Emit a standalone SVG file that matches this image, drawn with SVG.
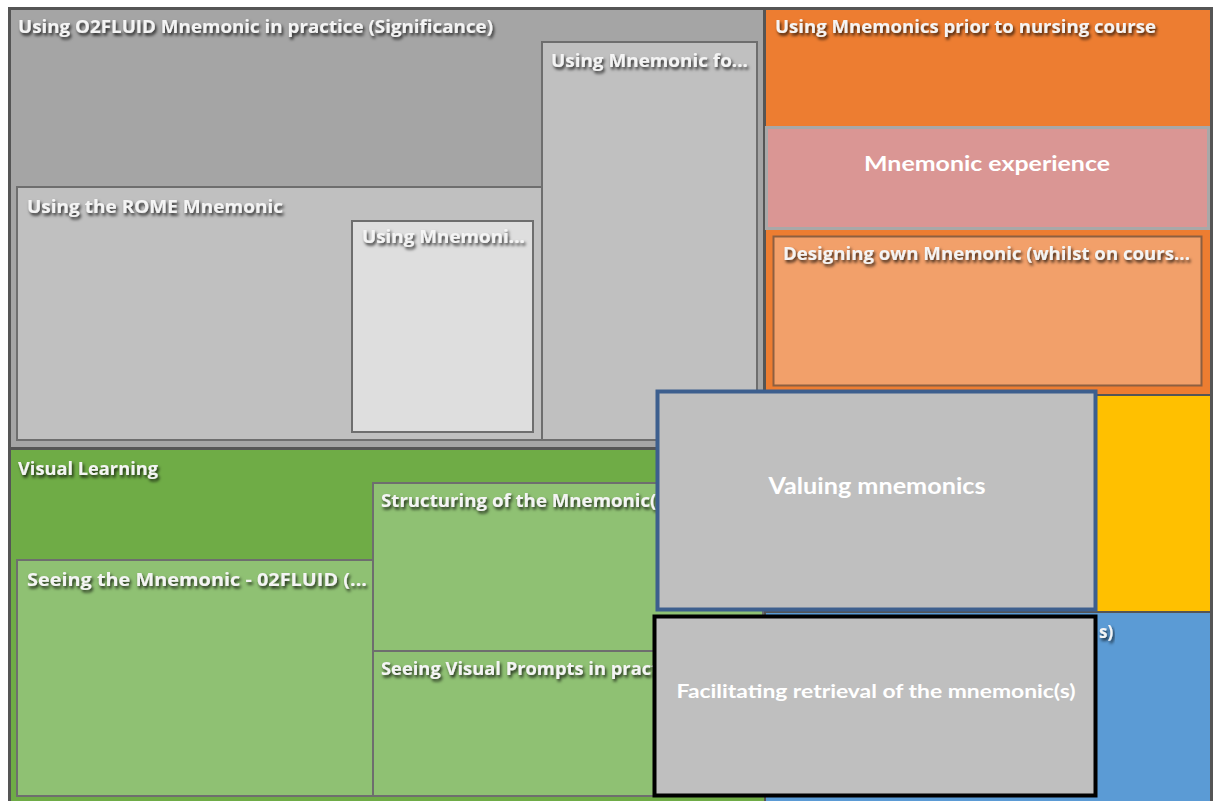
<svg xmlns="http://www.w3.org/2000/svg" width="1218" height="801" viewBox="0 0 1218 801">
  <defs>
    <filter id="shadow" x="-5%" y="-40%" width="110%" height="200%">
      <feDropShadow dx="1.5" dy="2.5" stdDeviation="1.5" flood-color="#000" flood-opacity="0.8"/>
    </filter>
  </defs>
  <style>
    .tile { stroke: #6e6e6e; stroke-width: 2; }
    .lbl { font-family: "Open Sans", "Liberation Sans", sans-serif; font-weight: 700; font-size: 17px; fill: #f4f4f4; filter: url(#shadow); }
    .theme { font-family: "Lato", "Open Sans", "Liberation Sans", sans-serif; font-weight: 700; fill: #ffffff; text-anchor: middle; }
  </style>

  <rect x="0" y="0" width="1218" height="801" fill="#ffffff"/>

  <!-- outer frame -->
  <rect x="8" y="7" width="1205" height="796" fill="#555555"/>

  <!-- grey branch -->
  <g id="o2fluid">
    <rect x="11" y="10" width="752" height="437" fill="#a5a5a5"/>
    <text class="lbl" x="18" y="33" textLength="475" lengthAdjust="spacingAndGlyphs">Using O2FLUID Mnemonic in practice (Significance)</text>
  </g>
  <g id="mnemonic-fo">
    <rect class="tile" x="542" y="42" width="215" height="398" fill="#c0c0c0"/>
    <text class="lbl" x="551" y="67" textLength="197" lengthAdjust="spacingAndGlyphs">Using Mnemonic fo...</text>
  </g>
  <g id="rome">
    <rect class="tile" x="17" y="187" width="525" height="253" fill="#c0c0c0"/>
    <text class="lbl" x="27" y="213" textLength="256" lengthAdjust="spacingAndGlyphs">Using the ROME Mnemonic</text>
  </g>
  <g id="mnemoni">
    <rect class="tile" x="352" y="221" width="181" height="211" fill="#dedede"/>
    <text class="lbl" x="362" y="243" textLength="163" lengthAdjust="spacingAndGlyphs">Using Mnemoni...</text>
  </g>

  <!-- orange branch -->
  <g id="prior">
    <rect x="766" y="10" width="444" height="384" fill="#ed7d31"/>
    <text class="lbl" x="775" y="33" textLength="381" lengthAdjust="spacingAndGlyphs">Using Mnemonics prior to nursing course</text>
  </g>
  <g id="designing">
    <rect x="773.5" y="236.5" width="428" height="149" fill="#f2a06a" stroke="#8d5f40" stroke-width="2"/>
    <text class="lbl" x="783" y="260" textLength="407" lengthAdjust="spacingAndGlyphs">Designing own Mnemonic (whilst on cours...</text>
  </g>

  <!-- yellow branch -->
  <g id="yellow">
    <rect x="766" y="396" width="444" height="215" fill="#ffc000"/>
  </g>

  <!-- blue branch -->
  <g id="blue">
    <rect x="766" y="613" width="444" height="188" fill="#5b9bd5"/>
    <text class="lbl" x="1099" y="638">s)</text>
  </g>

  <!-- green branch -->
  <g id="visual">
    <rect x="11" y="450" width="753" height="351" fill="#6fac46"/>
    <text class="lbl" x="18" y="475" textLength="140" lengthAdjust="spacingAndGlyphs">Visual Learning</text>
  </g>
  <g id="seeing-o2fluid">
    <rect class="tile" x="17" y="560" width="356" height="236" fill="#8fc173"/>
    <text class="lbl" x="27" y="586" textLength="340" lengthAdjust="spacingAndGlyphs">Seeing the Mnemonic - 02FLUID (...</text>
  </g>
  <g id="structuring">
    <rect class="tile" x="373" y="483" width="390" height="168" fill="#8fc173"/>
    <text class="lbl" x="381" y="507" textLength="291" lengthAdjust="spacingAndGlyphs">Structuring of the Mnemonic(s)</text>
  </g>
  <g id="prompts">
    <rect class="tile" x="373" y="651" width="390" height="145" fill="#8fc173"/>
    <text class="lbl" x="381" y="675" textLength="304" lengthAdjust="spacingAndGlyphs">Seeing Visual Prompts in practice</text>
  </g>

  <!-- themes laid over the map -->
  <g id="experience">
    <rect x="766.5" y="127.5" width="442" height="101" fill="#da9694" stroke="#a8a8a8" stroke-width="3"/>
    <text class="theme" x="987" y="171" font-size="21" textLength="246" lengthAdjust="spacingAndGlyphs">Mnemonic experience</text>
  </g>
  <g id="valuing">
    <rect x="657.5" y="391.5" width="438" height="218" fill="#bfbfbf" stroke="#3d5f8e" stroke-width="4"/>
    <text class="theme" x="877" y="494" font-size="22" textLength="217" lengthAdjust="spacingAndGlyphs">Valuing mnemonics</text>
  </g>
  <g id="facilitating">
    <rect x="654.5" y="616.5" width="441" height="179" fill="#bfbfbf" stroke="#000000" stroke-width="4"/>
    <text class="theme" x="876" y="698" font-size="19" textLength="399" lengthAdjust="spacingAndGlyphs">Facilitating retrieval of the mnemonic(s)</text>
  </g>
</svg>
